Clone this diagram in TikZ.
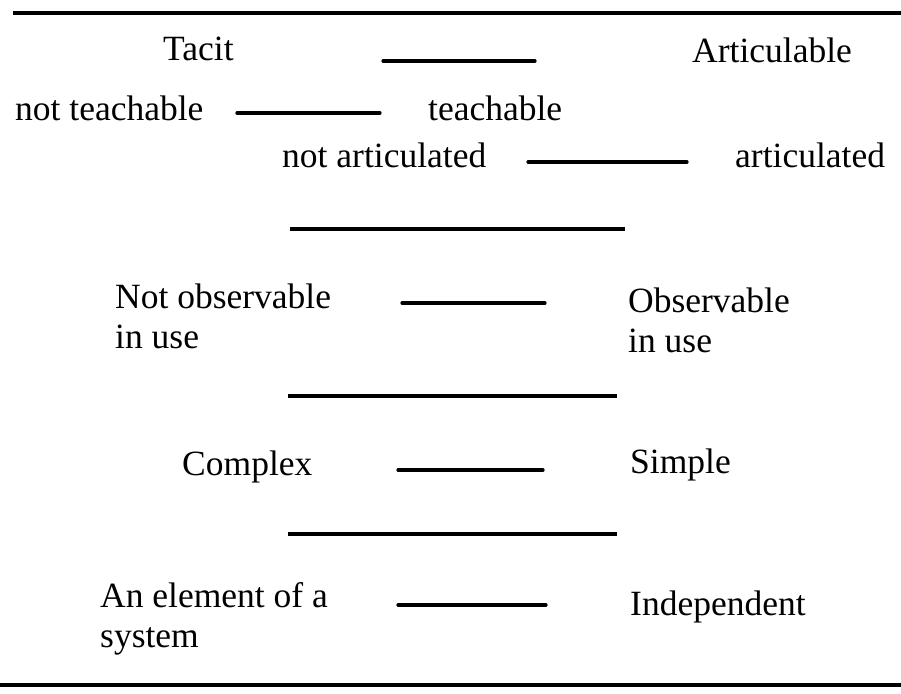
\documentclass[tikz,border=0pt]{standalone}
\usepackage{fontspec}
\setmainfont{Liberation Serif}
\usetikzlibrary{positioning}

\begin{document}
\begin{tikzpicture}[x=1pt,y=-1pt,
    term/.style={anchor=base west,inner sep=0pt,align=left,font=\fontsize{35.5}{40}\selectfont},
    rule/.style={line width=3.6pt},
    link/.style={line width=3.2pt,line cap=round}]
  \useasboundingbox (0,0) rectangle (901,693);
  \begin{scope}
    % the paired terms (two-line ones sit on their last line)
    \node[term] (tacit) at (163,60) {Tacit};
    \node[term] (artic) at (692,63) {Articulable};
    \node[term] (noteach) at (15,120) {not teachable};
    \node[term] (teach) at (428,120) {teachable};
    \node[term] (noart) at (282,167) {not articulated};
    \node[term] (art) at (735,167) {articulated};
    \node[term] (noobs) at (115,348) {Not observable\\in use};
    \node[term] (obs) at (628,352) {Observable\\in use};
    \node[term] (complex) at (182,475) {Complex};
    \node[term] (simple) at (630,473) {Simple};
    \node[term] (element) at (100,647) {An element of a\\system};
    \node[term] (indep) at (630,615) {Independent};
    % dash ends
    \coordinate (d1a) at (383,61);  \coordinate (d1b) at (535,61);
    \coordinate (d2a) at (237,113); \coordinate (d2b) at (380,113);
    \coordinate (d3a) at (528,162); \coordinate (d3b) at (687,162);
    \coordinate (d4a) at (402,303); \coordinate (d4b) at (545,303);
    \coordinate (d5a) at (398,470); \coordinate (d5b) at (543,470);
    \coordinate (d6a) at (398,605); \coordinate (d6b) at (546,605);
    \path[link] (d1a) edge (d1b);
    \path[link] (d2a) edge (d2b);
    \path[link] (d3a) edge (d3b);
    \path[link] (d4a) edge (d4b);
    \path[link] (d5a) edge (d5b);
    \path[link] (d6a) edge (d6b);
    % separating rules
    \coordinate (top a) at (13,13);   \coordinate (top b) at (901,13);
    \coordinate (r1a) at (290,229);   \coordinate (r1b) at (625,229);
    \coordinate (r2a) at (288,396);   \coordinate (r2b) at (617,396);
    \coordinate (r3a) at (288,534);   \coordinate (r3b) at (617,534);
    \coordinate (bot a) at (0,685);   \coordinate (bot b) at (901,685);
    \path[rule] (top a) edge (top b);
    \path[rule] (r1a) edge (r1b);
    \path[rule] (r2a) edge (r2b);
    \path[rule] (r3a) edge (r3b);
    \path[rule] (bot a) edge (bot b);
  \end{scope}
\end{tikzpicture}
\end{document}
